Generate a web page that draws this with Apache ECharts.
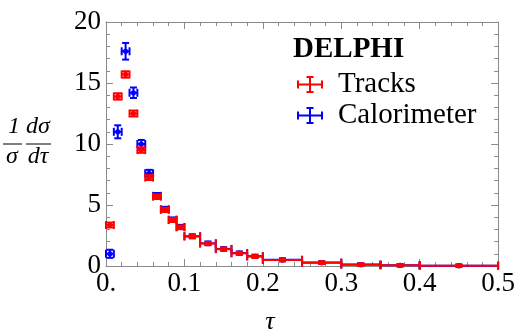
<!DOCTYPE html>
<html>
<head>
<meta charset="utf-8">
<script src="https://cdn.jsdelivr.net/npm/echarts@6/dist/echarts.min.js"></script>
<style>
html,body{margin:0;padding:0;background:#fff;}
#chart{width:518px;height:329px;}
</style>
</head>
<body>
<div id="chart"></div>
<script>
// ---- data ----
const binLow  = [0.00,0.01,0.02,0.03,0.04,0.05,0.06,0.07,0.08,0.09,0.10,0.12,0.14,0.16,0.18,0.20,0.25,0.30,0.35,0.40];
const binHigh = [0.01,0.02,0.03,0.04,0.05,0.06,0.07,0.08,0.09,0.10,0.12,0.14,0.16,0.18,0.20,0.25,0.30,0.35,0.40,0.50];
const tracksValues = [3.36,13.9,15.7,12.5,9.5,7.25,5.68,4.6,3.77,3.17,2.42,1.84,1.38,1.04,0.78,0.50,0.27,0.11,0.06,0.03];
const tracksErrors = [0.12,0.18,0.18,0.16,0.14,0.12,0.10,0.09,0.08,0.07,0.06,0.05,0.05,0.04,0.04,0.03,0.02,0.02,0.01,0.01];
const caloValues   = [1.0,11.0,17.6,14.2,10.0,7.6,5.75,4.65,3.8,3.2,2.44,1.86,1.40,1.06,0.80,0.51,0.28,0.12,0.06,0.03];
const caloErrors   = [0.25,0.45,0.6,0.35,0.25,0.2,0.15,0.12,0.1,0.09,0.08,0.07,0.06,0.05,0.05,0.04,0.03,0.02,0.02,0.01];
const xTicks = [0, 0.1, 0.2, 0.3, 0.4, 0.5];
const yTicks = [0, 5, 10, 15, 20];

const SERIF = "'Liberation Serif','DejaVu Serif',serif";
const FRAME = '#8a8a8a';

function makeData(vals, errs){
  return vals.map((v,i)=>[(binLow[i]+binHigh[i])/2, v, binLow[i], binHigh[i], errs[i]]);
}

function renderErr(color){
  return function(params, api){
    const xc=api.value(0), y=api.value(1), lo=api.value(2), hi=api.value(3), e=api.value(4);
    const p=api.coord([xc,y]), pl=api.coord([lo,y]), ph=api.coord([hi,y]);
    const pt=api.coord([xc,y+e]), pb=api.coord([xc,y-e]);
    const st={stroke:color,lineWidth:2,fill:null};
    const cap=4, hcap=3.5;
    return {type:'group',children:[
      {type:'line',shape:{x1:pl[0],y1:p[1],x2:ph[0],y2:p[1]},style:st},
      {type:'line',shape:{x1:pl[0],y1:p[1]-cap,x2:pl[0],y2:p[1]+cap},style:st},
      {type:'line',shape:{x1:ph[0],y1:p[1]-cap,x2:ph[0],y2:p[1]+cap},style:st},
      {type:'line',shape:{x1:p[0],y1:pt[1]-1,x2:p[0],y2:pb[1]+1},style:st},
      {type:'line',shape:{x1:p[0]-hcap,y1:pt[1]-1,x2:p[0]+hcap,y2:pt[1]-1},style:st},
      {type:'line',shape:{x1:p[0]-hcap,y1:pb[1]+1,x2:p[0]+hcap,y2:pb[1]+1},style:st},
      {type:'circle',shape:{cx:p[0],cy:p[1],r:2.6},style:{fill:color}}
    ]};
  };
}

const legendIcon = 'path://M0,7.5h26v2h-26z M0,4.5h2v8h-2z M24,4.5h2v8h-2z M12,0h2v17h-2z M9.5,0h7v2h-7z M9.5,15h7v2h-7z';

function axisX(pos, labels){
  return {type:'value',position:pos,min:0,max:0.5,interval:0.1,
    axisLine:{show:true,onZero:false,lineStyle:{color:FRAME,width:1}},
    axisTick:{show:true,inside:true,length:7,lineStyle:{color:FRAME}},
    minorTick:{show:true,splitNumber:5,length:4,lineStyle:{color:FRAME}},
    splitLine:{show:false},
    axisLabel:{show:labels,margin:4,fontSize:27,fontFamily:SERIF,color:'#000',
      formatter:v=> (v===0 ? '0.' : String(Math.round(v*10)/10))}
  };
}
function axisY(pos, labels){
  return {type:'value',position:pos,min:0,max:20,interval:5,
    axisLine:{show:true,onZero:false,lineStyle:{color:FRAME,width:1}},
    axisTick:{show:true,inside:true,length:7,lineStyle:{color:FRAME}},
    minorTick:{show:true,splitNumber:5,length:4,lineStyle:{color:FRAME}},
    splitLine:{show:false},
    axisLabel:{show:labels,margin:5,fontSize:27,fontFamily:SERIF,color:'#000',
      formatter:v=>String(v)}
  };
}

const chart = echarts.init(document.getElementById('chart'), null, {renderer:'canvas'});
chart.setOption({
  animation:false,
  backgroundColor:'#fff',
  grid:{left:106,right:16,top:22,bottom:63},
  title:{text:'DELPHI',left:293,top:35,padding:0,textStyle:{fontFamily:SERIF,fontSize:29,fontWeight:'bold',color:'#000'}},
  legend:{orient:'vertical',left:297,top:70,padding:0,itemWidth:26,itemHeight:17,itemGap:2,
    textStyle:{fontFamily:SERIF,fontSize:29,color:'#000',padding:[0,0,0,10]},
    data:[{name:'Tracks',icon:legendIcon},{name:'Calorimeter',icon:legendIcon}]},
  xAxis:[axisX('bottom',true), axisX('top',false)],
  yAxis:[axisY('left',true), axisY('right',false)],
  series:[
    {name:'Calorimeter',type:'custom',xAxisIndex:0,yAxisIndex:0,color:'#0000ff',
      renderItem:renderErr('#0000ff'),data:makeData(caloValues,caloErrors),z:2},
    {name:'Tracks',type:'custom',xAxisIndex:0,yAxisIndex:0,color:'#ff0000',
      renderItem:renderErr('#ff0000'),data:makeData(tracksValues,tracksErrors),z:3}
  ],
  graphic:[
    {type:'text',style:{text:'τ',x:270,y:322,textAlign:'center',textVerticalAlign:'middle',font:'italic 26px '+SERIF,fill:'#000'}},
    {type:'text',style:{text:'1',x:14,y:127,textAlign:'center',textVerticalAlign:'middle',font:'italic 24px '+SERIF,fill:'#000'}},
    {type:'line',shape:{x1:3,y1:144,x2:22,y2:144},style:{stroke:'#000',lineWidth:1}},
    {type:'text',style:{text:'σ',x:12,y:157,textAlign:'center',textVerticalAlign:'middle',font:'italic 24px '+SERIF,fill:'#000'}},
    {type:'text',style:{text:'dσ',x:38,y:127,textAlign:'center',textVerticalAlign:'middle',font:'italic 24px '+SERIF,fill:'#000'}},
    {type:'line',shape:{x1:26,y1:144,x2:51,y2:144},style:{stroke:'#000',lineWidth:1}},
    {type:'text',style:{text:'dτ',x:38,y:157,textAlign:'center',textVerticalAlign:'middle',font:'italic 24px '+SERIF,fill:'#000'}}
  ]
});
</script>
</body>
</html>
